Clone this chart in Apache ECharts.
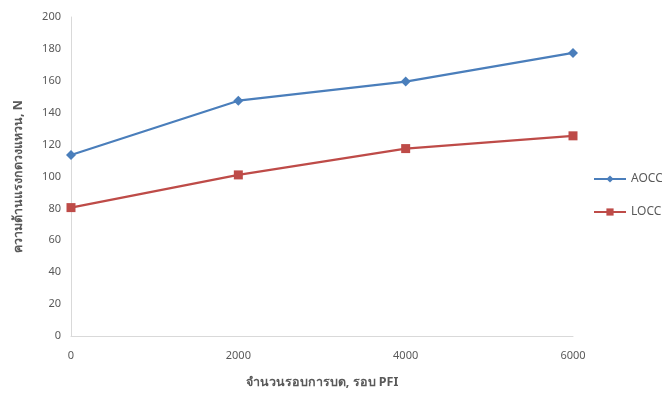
<!DOCTYPE html>
<html>
<head>
<meta charset="utf-8">
<script src="https://cdn.jsdelivr.net/npm/echarts@6/dist/echarts.min.js"></script>
<style>
  html, body { margin: 0; padding: 0; background: #fff; }
  #chart { width: 662px; height: 400px; }
</style>
</head>
<body>
<div id="chart"></div>
<script>
// PFI refining revolutions
const revolutions = [0, 2000, 4000, 6000];
// Ring crush resistance (N)
const aoccValues = [113.5, 147.5, 159.5, 177.5];
const loccValues = [80.5, 101, 117.5, 125.5];
const seriesNames = ['AOCC', 'LOCC'];
const xTitle = 'จำนวนรอบการบด, รอบ PFI';
const yTitle = 'ความต้านแรงกดวงแหวน, N';

const textColor = '#595959';
const fontFamily = '"Noto Sans", "DejaVu Sans", sans-serif';

const chart = echarts.init(document.getElementById('chart'));
chart.setOption({
  backgroundColor: '#ffffff',
  animation: false,
  textStyle: { fontFamily: fontFamily, color: textColor },
  grid: { left: 71, right: 89, top: 17, bottom: 64 },
  legend: {
    orient: 'vertical',
    left: 588,
    top: 168,
    itemWidth: 32,
    itemHeight: 9,
    itemGap: 21,
    textStyle: { color: textColor, fontSize: 12, fontFamily: fontFamily },
    data: seriesNames
  },
  xAxis: {
    type: 'value',
    min: 0,
    max: 6000,
    interval: 2000,
    name: xTitle,
    nameLocation: 'middle',
    nameGap: 40,
    nameTextStyle: { color: textColor, fontSize: 12.5, fontWeight: 'bold', fontFamily: fontFamily },
    axisLine: { show: true, lineStyle: { color: '#d9d9d9', width: 1 } },
    axisTick: { show: false },
    splitLine: { show: false },
    axisLabel: { color: textColor, fontSize: 11, margin: 14, formatter: v => String(v) }
  },
  yAxis: {
    type: 'value',
    min: 0,
    max: 200,
    interval: 20,
    name: yTitle,
    nameLocation: 'middle',
    nameRotate: 90,
    nameGap: 46,
    nameTextStyle: { color: textColor, fontSize: 12.5, fontWeight: 'bold', fontFamily: fontFamily },
    axisLine: { show: true, lineStyle: { color: '#d9d9d9', width: 1 } },
    axisTick: { show: false },
    splitLine: { show: false },
    axisLabel: { color: textColor, fontSize: 11, margin: 10 }
  },
  series: [
    {
      name: seriesNames[0],
      type: 'line',
      data: revolutions.map((x, i) => [x, aoccValues[i]]),
      symbol: 'diamond',
      symbolSize: 10,
      lineStyle: { color: '#4a7ebb', width: 2.25 },
      itemStyle: { color: '#4a7ebb' }
    },
    {
      name: seriesNames[1],
      type: 'line',
      data: revolutions.map((x, i) => [x, loccValues[i]]),
      symbol: 'rect',
      symbolSize: 9,
      lineStyle: { color: '#be4b48', width: 2.25 },
      itemStyle: { color: '#be4b48' }
    }
  ]
});
</script>
</body>
</html>
